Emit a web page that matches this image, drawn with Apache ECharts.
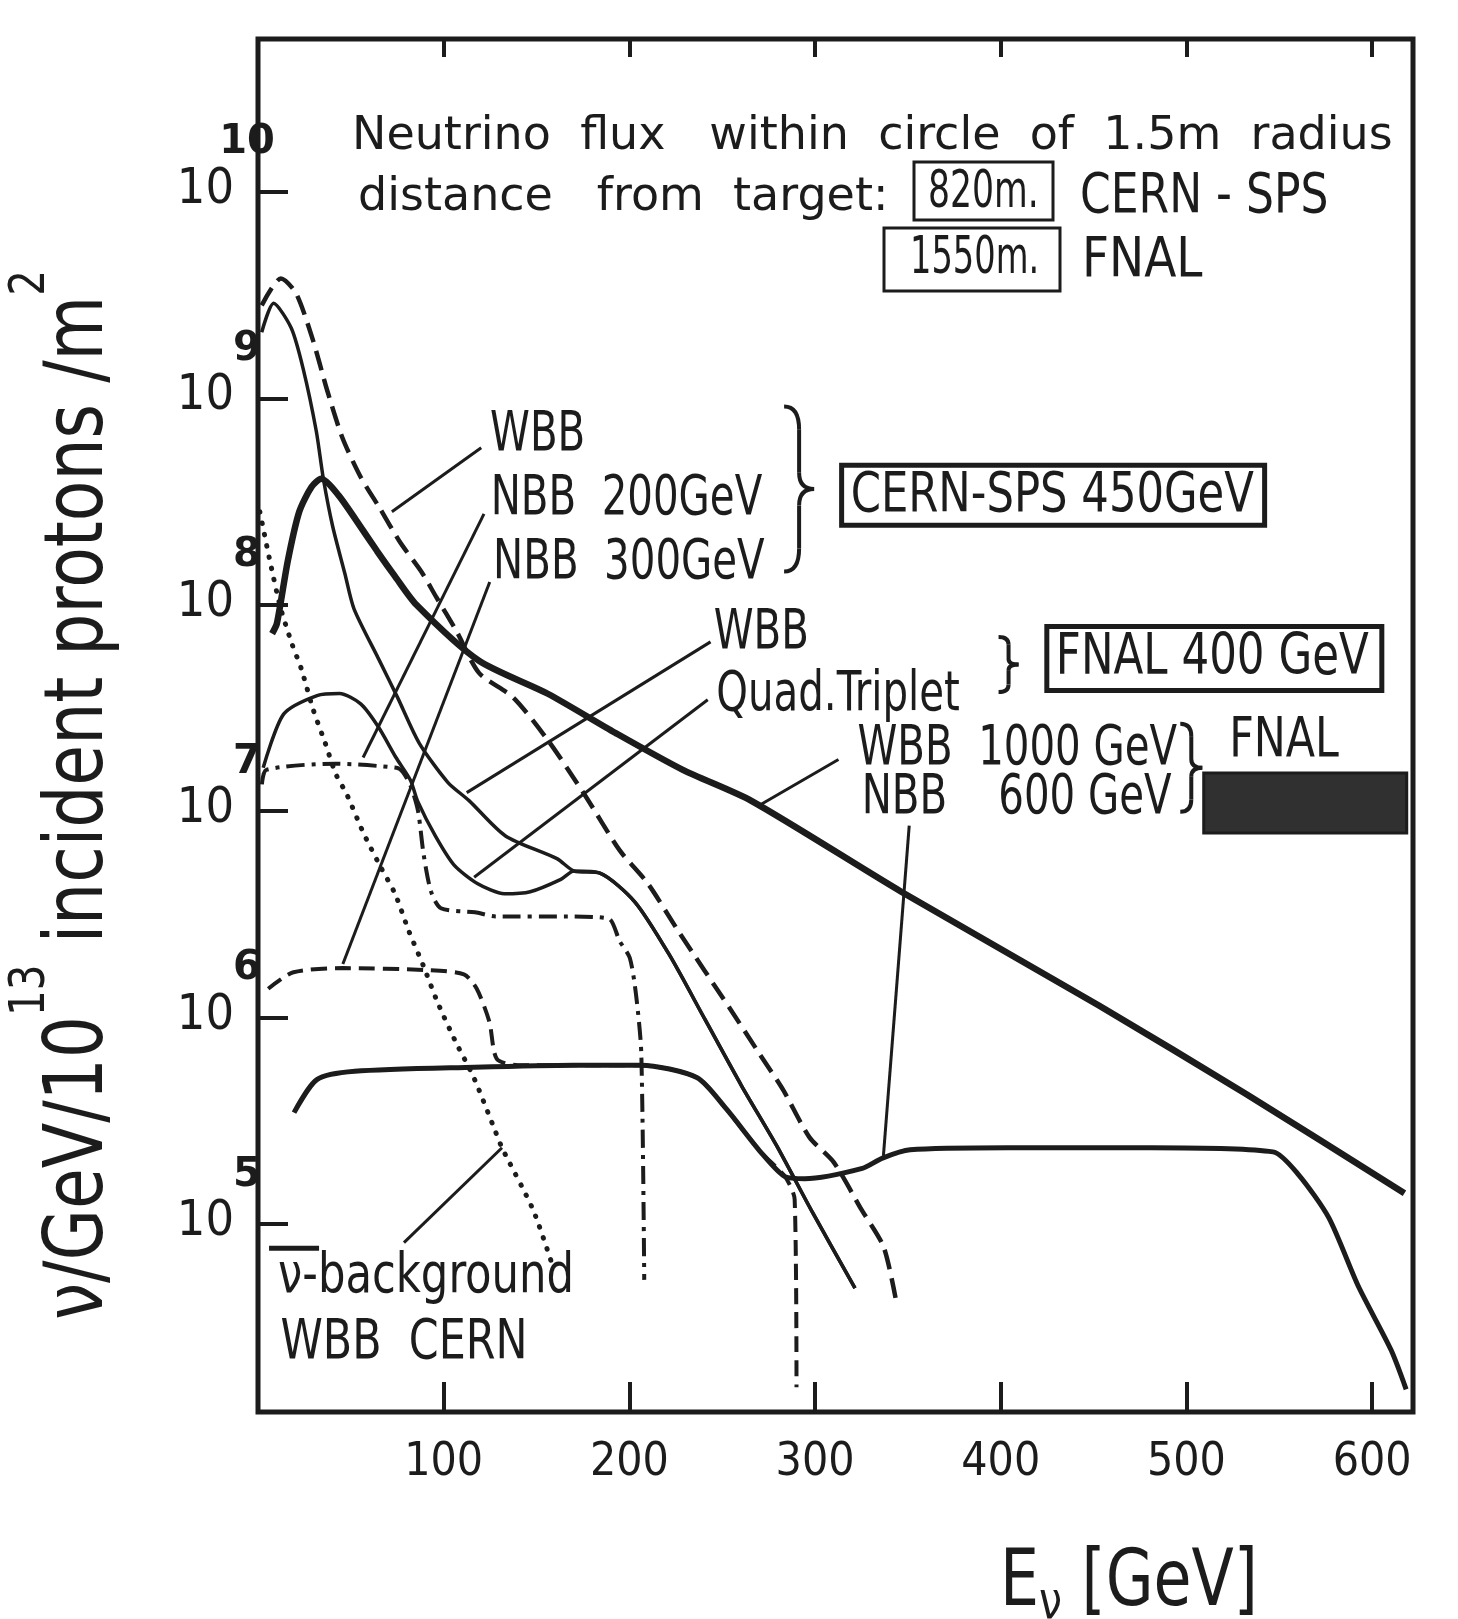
<!DOCTYPE html>
<html>
<head>
<meta charset="utf-8">
<script src="https://cdn.jsdelivr.net/npm/echarts@6/dist/echarts.min.js"></script>
<style>
  html, body { margin: 0; background: #fff; }
  #chart { width: 1458px; height: 1619px; }
</style>
</head>
<body>
<div id="chart"></div>
<script>
// energy in GeV, flux as log10( nu / GeV / 1e13 incident protons / m^2 )
const cernWbbE = [2, 12.3, 20.4, 29.3, 37.2, 45.4, 55.2, 65.4, 76.7, 88, 95.8, 107, 119, 137.5, 156.4, 175.9, 194.8, 209.9, 227, 253.7, 270.4, 282.8, 297, 310, 325, 336.9, 343.4];
const cernWbbF = [9.45, 9.58, 9.51, 9.29, 9.04, 8.81, 8.62, 8.47, 8.30, 8.16, 8.04, 7.87, 7.67, 7.55, 7.34, 7.08, 6.81, 6.65, 6.41, 6.05, 5.82, 5.65, 5.42, 5.30, 5.07, 4.89, 4.64];

const cernNbb200E = [2.1, 4.5, 41.7, 74.6, 78, 82.3, 86.2, 89.2, 93.2, 98.5, 116.9, 128.2, 167.1, 188.8, 194.8, 200.2, 203.6, 206.4, 208];
const cernNbb200F = [7.13, 7.20, 7.23, 7.21, 7.19, 7.12, 7.00, 6.79, 6.61, 6.53, 6.51, 6.49, 6.49, 6.48, 6.37, 6.29, 6.11, 5.83, 4.73];

const cernNbb300E = [5.5, 19.1, 45.7, 91.4, 110.9, 117.8, 124.6, 128.6, 140, 169.9, 206.1, 236.3, 252, 270.6, 283.8, 289, 290];
const cernNbb300F = [6.14, 6.22, 6.24, 6.23, 6.21, 6.14, 5.98, 5.80, 5.77, 5.77, 5.77, 5.71, 5.56, 5.35, 5.23, 5.12, 4.21];

const fnalWbb400E = [2, 8.4, 17.9, 24.4, 31.4, 35.2, 40.2, 46.8, 51.7, 64.8, 75.2, 86.8, 102.2, 113.8, 133.3, 161, 170.2, 184.1, 203, 221.8, 240.8, 260.4, 279.3, 298.4, 321.5];
const fnalWbb400F = [9.32, 9.46, 9.34, 9.14, 8.84, 8.61, 8.38, 8.15, 7.98, 7.74, 7.55, 7.33, 7.14, 7.05, 6.88, 6.77, 6.71, 6.70, 6.56, 6.30, 5.99, 5.67, 5.38, 5.06, 4.69];

const fnalQuadE = [2.8, 13.8, 31.8, 43.9, 55.3, 64.7, 74.3, 82.1, 85.9, 95.5, 105.5, 118.1, 132.7, 146.6, 163.1, 170.2, 184.1, 203, 221.8, 240.8, 260.4, 279.3, 298.4, 321.5];
const fnalQuadF = [7.21, 7.47, 7.56, 7.57, 7.52, 7.41, 7.26, 7.15, 7.05, 6.88, 6.74, 6.65, 6.60, 6.61, 6.67, 6.71, 6.70, 6.56, 6.30, 5.99, 5.67, 5.38, 5.06, 4.69];

const fnalWbb1000E = [7.6, 10.2, 16, 22.2, 28.8, 34.1, 43.4, 52.8, 64.1, 73.6, 85.3, 118.8, 155.8, 192.3, 228.8, 265.7, 346.4, 452.6, 532.1, 617.4];
const fnalWbb1000F = [7.86, 7.91, 8.21, 8.45, 8.57, 8.61, 8.53, 8.41, 8.26, 8.14, 8.00, 7.73, 7.57, 7.38, 7.20, 7.05, 6.61, 6.06, 5.63, 5.15];

const fnalNbb600E = [19.4, 31.7, 52.1, 116.6, 169.9, 206.1, 236.3, 252, 270.6, 283.8, 294.4, 325.4, 336.3, 351.2, 403.5, 481.4, 546.6, 560.3, 576.7, 592.5, 610.2, 618.3];
const fnalNbb600F = [5.54, 5.70, 5.74, 5.76, 5.77, 5.77, 5.71, 5.56, 5.35, 5.23, 5.22, 5.27, 5.32, 5.36, 5.37, 5.37, 5.35, 5.24, 5.03, 4.70, 4.39, 4.20];

const antiNuBgE = [1, 6, 12, 18.3, 23.3, 29.8, 36.2, 41.9, 47.9, 56.5, 65.4, 73.8, 81.2, 89.1, 96.9, 106.6, 116.2, 126.5, 131.4, 148.1, 158.6];
const antiNuBgF = [8.45, 8.23, 7.99, 7.81, 7.69, 7.49, 7.33, 7.18, 7.08, 6.90, 6.74, 6.60, 6.42, 6.25, 6.07, 5.88, 5.71, 5.48, 5.37, 5.07, 4.80];

const energyTicks = [100, 200, 300, 400, 500, 600];
const decadeTicks = [5, 6, 7, 8, 9, 10];

// label -> curve pointer lines, in data coordinates
const pointers = [
  [[120.2, 8.76], [72.1, 8.45]],
  [[121.7, 8.44], [56.6, 7.26]],
  [[124.8, 8.11], [45.7, 6.26]],
  [[243.7, 7.82], [112.4, 7.09]],
  [[242.2, 7.54], [116.4, 6.68]],
  [[312.6, 7.25], [270.3, 7.03]],
  [[350.7, 6.93], [336.8, 5.33]],
  [[78.6, 4.91], [131.4, 5.37]]
];

const ink = '#1c1c1c';
const narrow = '"DejaVu Sans Condensed", "DejaVu Sans", sans-serif';
const wide = '"DejaVu Sans", "Noto Sans", sans-serif';

const zip = (e, f) => e.map((x, i) => [x, f[i]]);

function curve(name, e, f, width, type) {
  return {
    name, type: 'line', data: zip(e, f),
    showSymbol: false, smooth: 0.25, silent: true,
    lineStyle: { color: ink, width, type }
  };
}

const dots = curve('anti-nu background WBB CERN', antiNuBgE, antiNuBgF, 5, [0.5, 11]);
dots.lineStyle.cap = 'round';

const option = {
  backgroundColor: '#fff',
  animation: false,
  grid: { left: 258, right: 45, top: 39, bottom: 207, show: true, borderColor: ink, borderWidth: 5 },
  xAxis: [{
    type: 'value', min: 0, max: 622,
    axisLine: { show: false }, splitLine: { show: false },
    axisTick: { inside: true, length: 30, customValues: energyTicks, lineStyle: { color: ink, width: 4 } },
    axisLabel: { customValues: energyTicks, margin: 28, color: ink, fontSize: 46, fontFamily: narrow }
  }, {
    type: 'value', min: 0, max: 622, position: 'top',
    axisLine: { show: false }, splitLine: { show: false },
    axisTick: { inside: true, length: 18, customValues: energyTicks, lineStyle: { color: ink, width: 4 } },
    axisLabel: { show: false }
  }],
  yAxis: {
    type: 'value', min: 4.09, max: 10.74,
    axisLine: { show: false }, splitLine: { show: false },
    axisTick: { inside: true, length: 30, customValues: decadeTicks, lineStyle: { color: ink, width: 4 } },
    axisLabel: {
      customValues: decadeTicks, margin: -2, padding: [0, 0, 46, 0],
      formatter: v => '{b|10}{e|' + v + '}',
      rich: {
        b: { fontSize: 50, fontFamily: narrow, color: ink, lineHeight: 92, verticalAlign: 'bottom' },
        e: { fontSize: 40, fontFamily: wide, fontWeight: 'bold', color: ink, lineHeight: 92, verticalAlign: 'top', width: 26, align: 'left' }
      }
    }
  },
  series: [
    curve('CERN WBB', cernWbbE, cernWbbF, 4.5, [20, 9]),
    curve('CERN NBB 200 GeV', cernNbb200E, cernNbb200F, 4, [18, 7, 4, 7]),
    curve('CERN NBB 300 GeV', cernNbb300E, cernNbb300F, 4, [16, 8]),
    curve('FNAL WBB 400 GeV', fnalWbb400E, fnalWbb400F, 3.5, 'solid'),
    curve('FNAL Quad. Triplet', fnalQuadE, fnalQuadF, 3.5, 'solid'),
    curve('FNAL WBB 1000 GeV', fnalWbb1000E, fnalWbb1000F, 6.5, 'solid'),
    curve('FNAL NBB 600 GeV', fnalNbb600E, fnalNbb600F, 5, 'solid'),
    dots,
    {
      type: 'lines', coordinateSystem: 'cartesian2d', silent: true,
      data: pointers.map(p => ({ coords: p })),
      lineStyle: { color: ink, width: 3, opacity: 1, curveness: 0 }
    }
  ]
};

const chart = echarts.init(document.getElementById('chart'), null, { renderer: 'canvas' });
chart.setOption(option);

const px = p => chart.convertToPixel({ gridIndex: 0 }, p);

function text(t, x, y, size, family, sx) {
  return {
    type: 'text', silent: true, x, y, scaleX: sx || 1,
    style: { text: t, x: 0, y: 0, font: size + 'px ' + family, fill: ink, align: 'left', verticalAlign: 'middle', textAlign: 'left', textVerticalAlign: 'middle' }
  };
}
function note(t, at, size, sx) {
  const p = px(at);
  return text(t, p[0], p[1], size || 56, narrow, sx || 0.8);
}
function rect(x, y, w, h, lw, fill) {
  return { type: 'rect', silent: true, shape: { x, y, width: w, height: h }, style: { fill: fill || 'none', stroke: ink, lineWidth: lw } };
}
function stroke(shape, type) {
  return { type, silent: true, shape, style: { fill: 'none', stroke: ink, lineWidth: 4 } };
}
function brace(at, h, w) {
  const c = px(at);
  const x0 = c[0] - w / 2, xm = c[0], x1 = c[0] + w / 2, y0 = c[1] - h / 2, y1 = c[1] + h / 2, cy = c[1];
  return [
    stroke({ x1: x0, y1: y0, cpx1: xm, cpy1: y0, x2: xm, y2: y0 + h * 0.14 }, 'bezierCurve'),
    stroke({ x1: xm, y1: y0 + h * 0.14, x2: xm, y2: cy - h * 0.1 }, 'line'),
    stroke({ x1: xm, y1: cy - h * 0.1, cpx1: xm, cpy1: cy, x2: x1, y2: cy }, 'bezierCurve'),
    stroke({ x1: x1, y1: cy, cpx1: xm, cpy1: cy, x2: xm, y2: cy + h * 0.1 }, 'bezierCurve'),
    stroke({ x1: xm, y1: cy + h * 0.1, x2: xm, y2: y1 - h * 0.14 }, 'line'),
    stroke({ x1: xm, y1: y1 - h * 0.14, cpx1: xm, cpy1: y1, x2: x0, y2: y1 }, 'bezierCurve')
  ];
}
function boxed(t, at, w, h, size, sx) {
  const p = px(at);
  return [rect(p[0], p[1] - h / 2, w, h, 5), text(t, p[0] + 9, p[1] + 1, size, narrow, sx)];
}

const bg = px([10.8, 4.74]);
const darkBox = px([509.3, 7.04]);

const graphic = [
  // heading
  text('Neutrino  flux   within  circle  of  1.5m  radius', 352, 137, 46, wide),
  text('distance   from  target:', 358, 198, 46, wide),
  rect(914, 162, 139, 58, 3),
  text('820m.', 928, 193, 52, narrow, 0.74),
  text('CERN - SPS', 1080, 198, 55, narrow, 0.89),
  rect(884, 228, 176, 63, 3),
  text('1550m.', 910, 259, 52, narrow, 0.72),
  text('FNAL', 1082, 262, 55, narrow, 0.95),

  // CERN group
  note('WBB', [125, 8.82]),
  note('NBB  200GeV', [125.3, 8.51]),
  note('NBB  300GeV', [126.6, 8.20]),
  ...brace([291.4, 8.56], 165, 30),
  ...boxed('CERN-SPS 450GeV', [314.3, 8.53], 423, 60, 56, 0.86),

  // FNAL 400
  note('WBB', [245.4, 7.86]),
  note('Quad.Triplet', [246.8, 7.56]),
  ...brace([404.2, 7.71], 55, 20),
  ...boxed('FNAL 400 GeV', [424.8, 7.74], 335, 64, 57, 0.85),

  // FNAL Tevatron
  note('WBB  1000 GeV', [322.8, 7.30]),
  note('NBB    600 GeV', [325.1, 7.06]),
  ...brace([502.6, 7.21], 88, 22),
  note('FNAL', [523, 7.34], 56, 0.85),
  rect(darkBox[0], darkBox[1] - 30, 203, 60, 3, '#303030'),

  // background curve label
  text('\u03bd-background', bg[0], bg[1], 56, narrow, 0.86),
  { type: 'rect', silent: true, shape: { x: bg[0] - 9, y: bg[1] - 32, width: 50, height: 5 }, style: { fill: ink } },
  note('WBB  CERN', [12.1, 4.42], 56, 0.85),

  // axis names
  {
    type: 'text', silent: true, x: 64, y: 795, rotation: Math.PI / 2, scaleX: 0.9,
    style: {
      text: '{a|\u03bd/GeV/10}{s|13}{a| incident protons /m}{s|2}',
      x: 0, y: 0, align: 'center', verticalAlign: 'middle', textAlign: 'center', textVerticalAlign: 'middle',
      rich: {
        a: { fontSize: 82, fontFamily: narrow, fill: ink, color: ink, lineHeight: 116, verticalAlign: 'bottom' },
        s: { fontSize: 50, fontFamily: narrow, fill: ink, color: ink, lineHeight: 116, verticalAlign: 'top' }
      }
    }
  },
  {
    type: 'text', silent: true, x: 1000, y: 1588, scaleX: 0.88,
    style: {
      text: '{a|E}{s|\u03bd}{a| [GeV]}', x: 0, y: 0, align: 'left', verticalAlign: 'middle', textAlign: 'left', textVerticalAlign: 'middle',
      rich: {
        a: { fontSize: 78, fontFamily: narrow, fill: ink, color: ink, lineHeight: 84, verticalAlign: 'top' },
        s: { fontSize: 52, fontFamily: narrow, fill: ink, color: ink, lineHeight: 84, verticalAlign: 'bottom' }
      }
    }
  }
];

chart.setOption({ graphic });
</script>
</body>
</html>
